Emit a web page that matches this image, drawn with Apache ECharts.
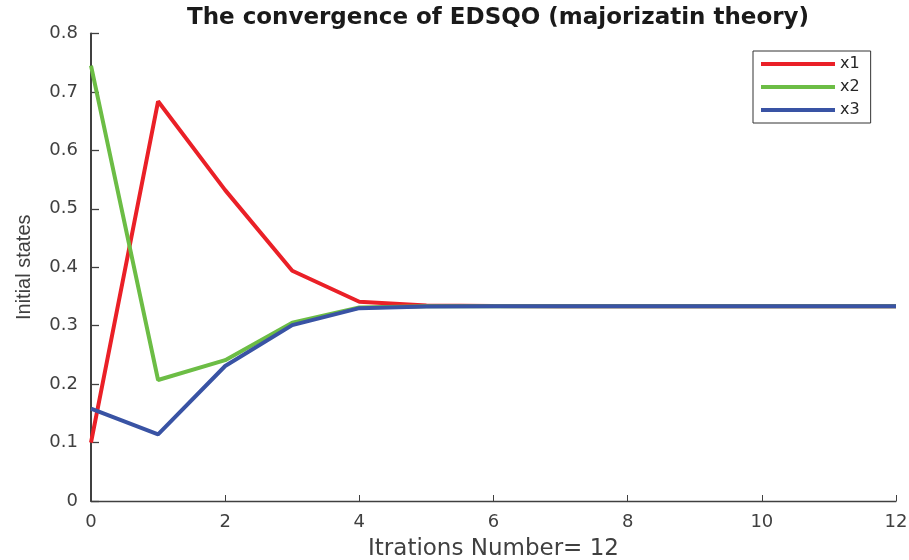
<!DOCTYPE html>
<html>
<head>
<meta charset="utf-8">
<script src="https://cdn.jsdelivr.net/npm/echarts@6/dist/echarts.min.js"></script>
<style>html,body{margin:0;padding:0;background:#fff;}#c{width:909px;height:560px;}</style>
</head>
<body>
<div id="c"></div>
<script>
const iterations = [0,1,2,3,4,5,6,7,8,9,10,11,12];
const x1 = [0.100,0.684,0.532,0.394,0.341,0.3345,0.3336,0.3334,0.3333,0.3333,0.3333,0.3333,0.3333];
const x2 = [0.745,0.207,0.241,0.305,0.331,0.3331,0.3333,0.3333,0.3333,0.3333,0.3333,0.3333,0.3333];
const x3 = [0.158,0.114,0.231,0.301,0.330,0.3330,0.3332,0.3333,0.3333,0.3333,0.3333,0.3333,0.3333];
const seriesNames = ['x1','x2','x3'];
const colors = ['#ea2027','#6cbd45','#3953a4'];
const yTicks = [0,0.1,0.2,0.3,0.4,0.5,0.6,0.7,0.8];

const wide = '"DejaVu Sans", Arial, sans-serif';
const narrow = '"Liberation Sans", Arial, Helvetica, sans-serif';
const pairs = arr => iterations.map((x,i)=>[x,arr[i]]);
const chart = echarts.init(document.getElementById('c'), null, {renderer:'canvas'});
chart.setOption({
  animation:false,
  backgroundColor:'#fff',
  title:{text:'The convergence of EDSQO (majorizatin theory)', left:493, textAlign:'center', top:2,
    textStyle:{fontFamily:wide, fontSize:23, fontWeight:'bold', color:'#1a1a1a'}},
  grid:{left:91, right:13, top:33.5, bottom:59, containLabel:false, outerBoundsMode:'none'},
  legend:{orient:'vertical', left:753, top:51, data:seriesNames, icon:'rect',
    itemWidth:74, itemHeight:4, itemGap:7, padding:[5,11,5,8],
    borderColor:'#333', borderWidth:1, textStyle:{fontFamily:wide, fontSize:16, color:'#262626'}},
  xAxis:{type:'value', min:0, max:12, interval:2,
    name:'Itrations Number= 12', nameLocation:'middle', nameGap:37,
    nameTextStyle:{fontFamily:wide, fontSize:23, color:'#404040'},
    axisLine:{lineStyle:{color:'#404040', width:1.3}},
    axisTick:{inside:true, length:6, lineStyle:{color:'#404040'}},
    axisLabel:{fontFamily:wide, fontSize:18, color:'#404040', margin:12},
    splitLine:{show:false}},
  yAxis:{type:'value', min:0, max:0.8, interval:0.1,
    name:'Initial states', nameLocation:'middle', nameGap:57, nameRotate:90,
    nameTextStyle:{fontFamily:narrow, fontSize:20, color:'#404040'},
    axisLine:{show:true, lineStyle:{color:'#404040', width:2}},
    axisTick:{show:true, inside:true, length:8, lineStyle:{color:'#404040', width:1.3}},
    axisLabel:{fontFamily:wide, fontSize:18, color:'#404040', margin:13,
      formatter:v=>{const t=yTicks.find(k=>Math.abs(k-v)<1e-9); return t===0?'0':String(t);}},
    splitLine:{show:false}},
  series:[x1,x2,x3].map((d,i)=>({name:seriesNames[i], type:'line', data:pairs(d), showSymbol:false,
    lineStyle:{width:4, color:colors[i]}, itemStyle:{color:colors[i]}}))
});
</script>
</body>
</html>
